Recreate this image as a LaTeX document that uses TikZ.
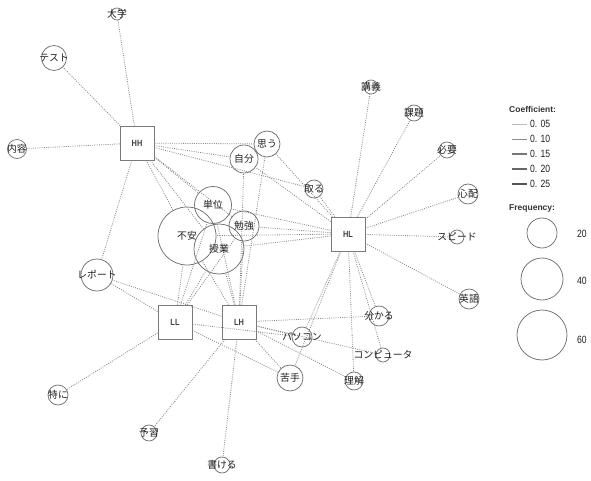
\documentclass[tikz,border=0pt]{standalone}
\usepackage{fontspec}
\setmainfont{Liberation Sans}
\newfontfamily\jp{Noto Sans CJK JP}
\newfontfamily\narrow[FakeStretch=0.82]{Liberation Sans}
\definecolor{cl}{HTML}{707070}
\definecolor{sqc}{HTML}{7A7A7A}
\definecolor{el}{HTML}{858585}
\definecolor{tx}{HTML}{1E1E1E}
\begin{document}
\begin{tikzpicture}[x=1pt,y=-1pt,
  wd/.style={circle, draw=cl, line width=0.75pt, inner sep=0pt},
  sq/.style={rectangle, draw=sqc, line width=0.9pt, minimum size=34pt, inner sep=0pt,
             font=\narrow\bfseries\fontsize{9}{10}\selectfont, text=black!75},
  lk/.style={draw=el, line width=0.8pt, dash pattern=on 0.9pt off 1.3pt},
  lab/.style={font=\jp\fontsize{9.8}{11}\selectfont, text=tx, inner sep=0pt},
  leg/.style={font=\narrow\fontsize{10.5}{12}\selectfont, text=tx, anchor=west, inner sep=0pt},
  legh/.style={font=\bfseries\fontsize{8.5}{10}\selectfont, text=black!80, anchor=west, inner sep=0pt}]
\useasboundingbox (0,0) rectangle (591,481);
\newcommand\wn[4]{\node[wd, minimum size=#4pt] (#1) at (#2,#3) {};}
% word circles
\wn{daigaku}{117}{14}{12}
\wn{test}{54}{58}{25}
\wn{naiyou}{17}{149}{19}
\wn{omou}{267}{144}{26}
\wn{jibun}{244}{159}{28}
\wn{tani}{213}{205}{37}
\wn{fuan}{187}{236}{58}
\wn{jugyou}{219}{249}{50}
\wn{benkyou}{244}{226}{30}
\wn{toru}{314}{189}{18}
\wn{kougi}{371}{87}{14}
\wn{kadai}{414}{113}{16}
\wn{hitsuyou}{447}{150}{16}
\wn{shinpai}{468}{194}{20}
\wn{speed}{457}{237}{14}
\wn{eigo}{469}{299}{20}
\wn{wakaru}{379}{316}{20}
\wn{pasokon}{302}{337}{20}
\wn{computer}{383}{355}{14}
\wn{rikai}{354}{381}{18}
\wn{nigate}{290}{378}{26}
\wn{report}{97}{275}{32}
\wn{tokuni}{58}{395}{20}
\wn{yoshuu}{149}{433}{16}
\wn{kakeru}{222}{465}{16}
% squares
\node[sq] (HH) at (137,143) {HH};
\node[sq] (HL) at (348,234) {HL};
\node[sq] (LL) at (175,322) {LL};
\node[sq] (LH) at (239,322) {LH};
% edges
\foreach \a/\b in {HH/daigaku,HH/test,HH/naiyou,HH/omou,HH/jibun,HH/toru,HH/tani,HH/fuan,HH/jugyou,HH/benkyou,HH/report,
  HL/kougi,HL/kadai,HL/hitsuyou,HL/shinpai,HL/speed,HL/eigo,HL/wakaru,HL/computer,HL/rikai,HL/pasokon,HL/nigate,HL/toru,HL/omou,HL/jibun,HL/benkyou,HL/jugyou,HL/tani,HL/fuan,
  LL/fuan,LL/jugyou,LL/tani,LL/report,LL/tokuni,LL/nigate,LL/pasokon,LL/benkyou,
  LH/fuan,LH/jugyou,LH/tani,LH/benkyou,LH/jibun,LH/omou,LH/report,LH/yoshuu,LH/kakeru,LH/pasokon,LH/nigate,LH/rikai,LH/wakaru,LH/computer}
  \draw[lk] (\a) -- (\b);
% labels
\node[lab] at (daigaku) {大学};
\node[lab] at (test) {テスト};
\node[lab] at (naiyou) {内容};
\node[lab] at (omou) {思う};
\node[lab] at (jibun) {自分};
\node[lab] at (tani) {単位};
\node[lab] at (fuan) {不安};
\node[lab] at (jugyou) {授業};
\node[lab] at (benkyou) {勉強};
\node[lab] at (toru) {取る};
\node[lab] at (kougi) {講義};
\node[lab] at (kadai) {課題};
\node[lab] at (hitsuyou) {必要};
\node[lab] at (shinpai) {心配};
\node[lab] at (speed) {スピード};
\node[lab] at (eigo) {英語};
\node[lab] at (wakaru) {分かる};
\node[lab] at (pasokon) {パソコン};
\node[lab] at (computer) {コンピュータ};
\node[lab] at (rikai) {理解};
\node[lab] at (nigate) {苦手};
\node[lab] at (report) {レポート};
\node[lab] at (tokuni) {特に};
\node[lab] at (yoshuu) {予習};
\node[lab] at (kakeru) {書ける};
% legend
\node[legh] (coef) at (509,109) {Coefficient:};
\foreach \y/\v/\w/\c in {124/{0. 05}/0.6/BBBBBB,139/{0. 10}/0.9/8C8C8C,154/{0. 15}/1.1/777777,169/{0. 20}/1.3/666666,184/{0. 25}/1.5/555555}{
  \definecolor{lc}{HTML}{\c}
  \coordinate (la) at (512,\y); \coordinate (lb) at (527,\y);
  \draw[line width=\w pt, draw=lc] (la) -- (lb);
  \node[leg] at (530,\y) {\v};
}
\node[legh] (freq) at (509,208) {Frequency:};
\node[wd, minimum size=30pt] (f20) at (542,233) {};
\node[wd, minimum size=42pt] (f40) at (542,279) {};
\node[wd, minimum size=50pt] (f60) at (542,335) {};
\node[leg] at (577,234) {20};
\node[leg] at (577,281) {40};
\node[leg] at (577,340) {60};
\end{tikzpicture}
\end{document}
